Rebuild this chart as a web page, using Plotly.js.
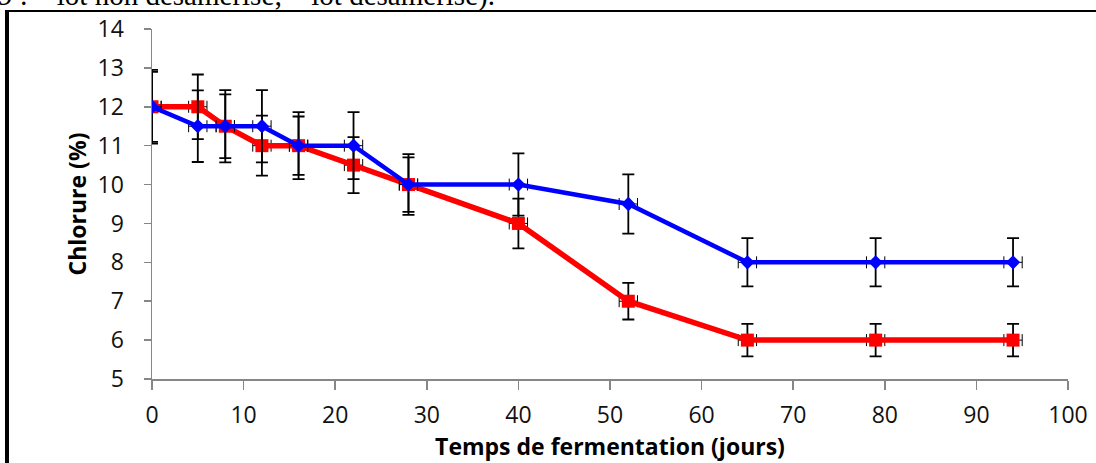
<!DOCTYPE html>
<html>
<head>
<meta charset="utf-8">
<script src="https://cdn.plot.ly/plotly-3.0.1.min.js"></script>
<style>html,body{margin:0;padding:0;background:#fff;}#chart{width:1096px;height:463px;}</style>
</head>
<body>
<div id="chart"></div>
<script>
// Data
var days = [0, 5, 8, 12, 16, 22, 28, 40, 52, 65, 79, 94];
var loDesamerise = [12, 12, 11.5, 11, 11, 10.5, 10, 9, 7, 6, 6, 6];          // red squares
var loDesameriseErr = [0.9, 0.83, 0.82, 0.77, 0.75, 0.72, 0.7, 0.64, 0.47, 0.42, 0.42, 0.42];
var loNonDesamerise = [12, 11.5, 11.5, 11.5, 11, 11, 10, 10, 9.5, 8, 8, 8];  // blue diamonds
var loNonDesameriseErr = [0.95, 0.92, 0.93, 0.93, 0.86, 0.86, 0.78, 0.8, 0.76, 0.62, 0.62, 0.62];
var daysErr = [1, 1, 1, 1, 1, 1, 1, 1, 1, 1, 1, 1];
var xTicks = [0, 10, 20, 30, 40, 50, 60, 70, 80, 90, 100];
var yTicks = [5, 6, 7, 8, 9, 10, 11, 12, 13, 14];
var captionText = "9 : – lot non désamérisé; – lot désamérisé).";
var xTitle = "Temps de fermentation (jours)";
var yTitle = "Chlorure (%)";

var W = 1096, H = 463;
var mL = 152, mR = 28, mT = 29, mB = 84;
var pw = W - mL - mR, ph = H - mT - mB;
function px2x(p){ return (p - mL) / pw; }
function py2y(p){ return (H - mB - p) / ph; }

var errStyle = {type: 'data', visible: true, color: '#000', thickness: 1.8, width: 6};
var errXStyle = {type: 'data', visible: true, color: '#000', thickness: 1, width: 6};

var traces = [
  {
    x: days, y: loDesamerise, type: 'scatter', mode: 'lines+markers',
    line: {color: '#FF0000', width: 5.5},
    marker: {symbol: 'square', size: 13, color: '#FF0000'},
    error_y: Object.assign({array: loDesameriseErr}, errStyle),
    error_x: Object.assign({array: daysErr}, errXStyle),
    hoverinfo: 'x+y'
  },
  {
    x: days, y: loNonDesamerise, type: 'scatter', mode: 'lines+markers',
    line: {color: '#0000FF', width: 4.5},
    marker: {symbol: 'diamond', size: 11, color: '#0000FF'},
    error_y: Object.assign({array: loNonDesameriseErr}, errStyle),
    error_x: Object.assign({array: daysErr}, errXStyle),
    hoverinfo: 'x+y'
  }
];

var tickFont = {family: '"Open Sans", Lato, sans-serif', size: 23, color: '#111'};
var titleFont = {family: '"Open Sans", Lato, sans-serif', size: 23, color: '#000', weight: 'bold'};

var layout = {
  width: W, height: H,
  margin: {l: mL, r: mR, t: mT, b: mB, pad: 0},
  paper_bgcolor: '#fff', plot_bgcolor: '#fff',
  showlegend: false,
  xaxis: {
    range: [0, 100], tickvals: xTicks, ticktext: xTicks.map(String),
    showgrid: false, zeroline: false,
    showline: true, linecolor: '#868686', linewidth: 1.5,
    ticks: 'outside', ticklen: 9, tickcolor: '#868686', tickwidth: 1.5,
    tickfont: tickFont, ticklabelstandoff: 6,
    title: {text: '<b>' + xTitle + '</b>', font: titleFont, standoff: 0}
  },
  yaxis: {
    range: [5, 14], tickvals: yTicks, ticktext: yTicks.map(String),
    showgrid: false, zeroline: false,
    showline: true, linecolor: '#868686', linewidth: 1.5,
    ticks: 'outside', ticklen: 7, tickcolor: '#868686', tickwidth: 1.5,
    tickfont: tickFont, ticklabelstandoff: 15,
    title: {text: '<b>' + yTitle + '</b>', font: titleFont, standoff: 4}
  },
  shapes: [
    {type: 'line', xref: 'paper', yref: 'paper', x0: px2x(7), x1: px2x(7), y0: py2y(10), y1: py2y(480),
     line: {color: '#000', width: 4}},
    {type: 'line', xref: 'paper', yref: 'paper', x0: px2x(5), x1: px2x(1100), y0: py2y(11), y1: py2y(11),
     line: {color: '#000', width: 2}}
  ],
  annotations: [
    {xref: 'paper', yref: 'paper', x: px2x(-4), y: py2y(14), xanchor: 'left', yanchor: 'bottom',
     text: captionText, showarrow: false,
     font: {family: '"Liberation Serif", "DejaVu Serif", serif', size: 29, color: '#000'}}
  ]
};

Plotly.newPlot('chart', traces, layout, {displayModeBar: false, staticPlot: true});
</script>
</body>
</html>
